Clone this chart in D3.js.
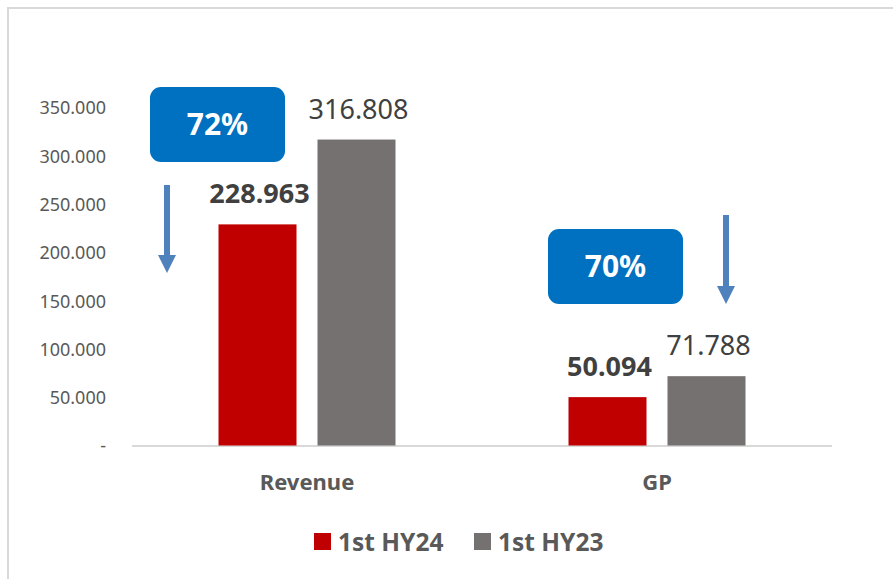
<!DOCTYPE html>
<html>
<head>
<meta charset="utf-8">
<script src="https://cdn.jsdelivr.net/npm/d3@7"></script>
<style>
  html, body { margin: 0; padding: 0; background: #ffffff; }
  #chart { width: 893px; height: 579px; overflow: hidden; }
</style>
</head>
<body>
<div id="chart"></div>
<script>
// chart values
const categories = ["Revenue", "GP"];
const seriesNames = ["1st HY24", "1st HY23"];
const hy24 = [228963, 50094];
const hy23 = [316808, 71788];
const tickValues = [0, 50000, 100000, 150000, 200000, 250000, 300000, 350000];
const changeLabels = ["72%", "70%"];

const colors = ["#C00000", "#767171"];
const textGrey = "#595959";
const labelDark = "#404040";
const boxBlue = "#0070C0";
const arrowBlue = "#4F81BD";
const fontFamily = "'Noto Sans', sans-serif";

const width = 893;
const height = 579;

const fmt = d3.formatLocale({ decimal: ",", thousands: ".", grouping: [3], currency: ["", ""] }).format(",d");

const svg = d3.select("#chart")
  .append("svg")
  .attr("width", width)
  .attr("height", height)
  .style("font-family", fontFamily);

// outer frame (only top and left edges show in the window)
svg.append("rect")
  .attr("x", 8).attr("y", 8)
  .attr("width", 1000).attr("height", 1000)
  .attr("fill", "none")
  .attr("stroke", "#D9D9D9")
  .attr("stroke-width", 2);

const x = d3.scaleBand().domain(categories).range([132, 832]);
const y = d3.scaleLinear().domain([0, 350000]).range([445.5, 107.5]);

const barW = 78, barGap = 21;
// left edge of a bar: series 0 left of the band centre, series 1 right of it
const barX = (ci, si) => x(categories[ci]) + x.bandwidth() / 2 + (si === 0 ? -(barW + barGap / 2) : barGap / 2);

// y tick labels
const yAxis = d3.axisLeft(y)
  .tickValues(tickValues)
  .tickSize(0)
  .tickPadding(0)
  .tickFormat(d => d === 0 ? "-" : fmt(d));

svg.append("g")
  .attr("transform", "translate(106,0)")
  .call(yAxis)
  .attr("font-family", fontFamily)
  .attr("font-size", 18)
  .call(g => g.select(".domain").remove())
  .call(g => g.selectAll("text")
    .attr("fill", textGrey)
    .attr("dy", "0.36em"));

// baseline
svg.append("line")
  .attr("x1", x.range()[0]).attr("x2", x.range()[1])
  .attr("y1", y(0) + 0.5).attr("y2", y(0) + 0.5)
  .attr("stroke", "#D9D9D9")
  .attr("stroke-width", 2);

const series = [hy24, hy23];

series.forEach((vals, si) => {
  svg.append("g")
    .selectAll("rect")
    .data(vals)
    .join("rect")
    .attr("x", (d, i) => barX(i, si))
    .attr("y", d => y(d))
    .attr("width", barW)
    .attr("height", d => y(0) - y(d))
    .attr("fill", colors[si]);

  svg.append("g")
    .selectAll("text")
    .data(vals)
    .join("text")
    .attr("x", (d, i) => barX(i, si) + barW / 2 + 2)
    .attr("y", d => y(d) - 21)
    .attr("text-anchor", "middle")
    .attr("font-size", 27)
    .attr("font-weight", si === 0 ? "bold" : "normal")
    .attr("fill", labelDark)
    .text(d => fmt(d));
});

// category labels
svg.append("g")
  .selectAll("text")
  .data(categories)
  .join("text")
  .attr("x", d => x(d) + x.bandwidth() / 2)
  .attr("y", 490)
  .attr("text-anchor", "middle")
  .attr("font-size", 22)
  .attr("font-weight", "bold")
  .attr("fill", textGrey)
  .text(d => d);

// change annotations: blue badge + down arrow
const badges = [
  { dx: -157, y: 87, arrowDx: -140, arrowY1: 185, arrowY2: 273 },
  { dx: -109, y: 229, arrowDx: 69, arrowY1: 215, arrowY2: 304 }
];
const badgeW = 135, badgeH = 75;

badges.forEach((b, i) => {
  const cx = x(categories[i]) + x.bandwidth() / 2;
  const g = svg.append("g");
  g.append("rect")
    .attr("x", cx + b.dx)
    .attr("y", b.y)
    .attr("width", badgeW)
    .attr("height", badgeH)
    .attr("rx", 11)
    .attr("fill", boxBlue);
  g.append("text")
    .attr("x", cx + b.dx + badgeW / 2)
    .attr("y", b.y + badgeH / 2)
    .attr("dy", "0.36em")
    .attr("text-anchor", "middle")
    .attr("font-size", 30)
    .attr("font-weight", "bold")
    .attr("fill", "#ffffff")
    .text(changeLabels[i]);

  const ax = cx + b.arrowDx;
  const headH = 18, headW = 18, shaft = 6;
  g.append("path")
    .attr("d", `M${ax - shaft / 2},${b.arrowY1} L${ax + shaft / 2},${b.arrowY1} L${ax + shaft / 2},${b.arrowY2 - headH} L${ax + headW / 2},${b.arrowY2 - headH} L${ax},${b.arrowY2} L${ax - headW / 2},${b.arrowY2 - headH} L${ax - shaft / 2},${b.arrowY2 - headH} Z`)
    .attr("fill", arrowBlue);
});

// legend
const legend = svg.append("g").attr("transform", "translate(314,533)");
const legendX = [0, 160];
seriesNames.forEach((name, i) => {
  const item = legend.append("g").attr("transform", `translate(${legendX[i]},0)`);
  item.append("rect")
    .attr("width", 17).attr("height", 17)
    .attr("fill", colors[i]);
  item.append("text")
    .attr("x", 24)
    .attr("y", 9)
    .attr("dy", "0.36em")
    .attr("font-size", 24.5)
    .attr("font-weight", "bold")
    .attr("fill", textGrey)
    .text(name);
});
</script>
</body>
</html>
